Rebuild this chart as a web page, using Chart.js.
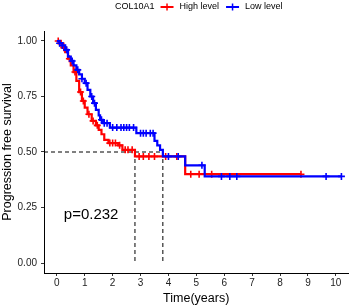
<!DOCTYPE html>
<html>
<head>
<meta charset="utf-8">
<script src="https://cdn.jsdelivr.net/npm/chart.js@4"></script>
<style>
  html, body { margin: 0; padding: 0; background: #fff; }
</style>
</head>
<body>
<canvas id="km" width="354" height="306"></canvas>
<script>
// Kaplan-Meier steps
const highTimes = [0, 0.1, 0.2, 0.3, 0.4, 0.5, 0.6, 0.7, 0.8, 0.9, 1.0, 1.1, 1.25, 1.4, 1.5, 1.6, 1.7, 1.85, 2.2, 2.35, 2.8, 4.6, 8.75];
const highSurv  = [1.0, 0.99, 0.97, 0.95, 0.92, 0.89, 0.86, 0.82, 0.77, 0.73, 0.70, 0.67, 0.64, 0.62, 0.60, 0.58, 0.555, 0.54, 0.53, 0.51, 0.48, 0.40, 0.40];
const lowTimes  = [0, 0.1, 0.2, 0.3, 0.4, 0.5, 0.6, 0.7, 0.8, 0.9, 1.0, 1.1, 1.2, 1.3, 1.4, 1.5, 1.55, 1.65, 1.9, 2.85, 3.5, 3.6, 3.7, 3.8, 4.6, 5.3, 10.2];
const lowSurv   = [1.0, 0.99, 0.98, 0.96, 0.93, 0.91, 0.89, 0.87, 0.85, 0.83, 0.81, 0.78, 0.75, 0.72, 0.69, 0.665, 0.645, 0.63, 0.61, 0.585, 0.55, 0.53, 0.51, 0.48, 0.44, 0.39, 0.39];

// censored observations (times)
const highCensor = [0.05, 0.15, 0.25, 0.45, 0.65, 0.85, 0.95, 1.15, 1.3, 1.45, 1.9, 2.0, 2.1, 2.25, 2.45, 2.55, 2.7, 2.95, 3.1, 3.3, 3.5, 3.9, 4.3, 4.8, 5.1, 5.55, 8.75];
const lowCensor  = [0.1, 0.2, 0.35, 0.55, 0.75, 0.9, 1.05, 1.25, 1.35, 1.6, 1.7, 1.8, 2.0, 2.15, 2.3, 2.4, 2.5, 2.6, 2.75, 3.0, 3.1, 3.2, 3.35, 3.45, 4.0, 4.35, 5.2, 5.9, 6.2, 6.45, 9.65, 10.2];

const medians = [2.8, 3.8];
const xTicks = [0, 1, 2, 3, 4, 5, 6, 7, 8, 9, 10];
const yTicks = [0, 0.25, 0.5, 0.75, 1];
const pValue = 'p=0.232';

const RED = '#ff0000';
const BLUE = '#0000ff';
const X_MIN = -0.46, X_MAX = 10.45;

function survAt(times, surv, t) {
  let s = surv[0];
  for (let i = 0; i < times.length; i++) {
    if (times[i] <= t) s = surv[i];
  }
  return s;
}

const toPts = (xs, ys) => xs.map((x, i) => ({ x: x, y: ys[i] }));
const censorPts = (cs, times, surv) => cs.map(t => ({ x: t, y: survAt(times, surv, t) }));

const stepStyle = color => ({
  type: 'line', stepped: true, borderColor: color, borderWidth: 2.2,
  pointRadius: 0, fill: false
});
const crossStyle = color => ({
  type: 'scatter', pointStyle: 'cross', pointRadius: 3.5, borderWidth: 1.6,
  borderColor: color, backgroundColor: color
});
const dashStyle = {
  type: 'line', borderColor: '#000', borderWidth: 1, borderDash: [4, 3],
  pointRadius: 0, fill: false
};

const datasets = [
  Object.assign({ data: toPts(lowTimes, lowSurv), order: 1 }, stepStyle(BLUE)),
  Object.assign({ data: censorPts(lowCensor, lowTimes, lowSurv), order: 0 }, crossStyle(BLUE)),
  Object.assign({ data: toPts(highTimes, highSurv), order: 3 }, stepStyle(RED)),
  Object.assign({ data: censorPts(highCensor, highTimes, highSurv), order: 2 }, crossStyle(RED)),
  Object.assign({ data: [{ x: X_MIN, y: 0.5 }, { x: Math.max(...medians), y: 0.5 }], order: 4 }, dashStyle)
];
medians.forEach(m => {
  datasets.push(Object.assign({ data: [{ x: m, y: 0.5 }, { x: m, y: 0 }], order: 4 }, dashStyle));
});

// legend and p-value drawn by hand (ggplot style)
const extras = {
  id: 'extras',
  afterDraw(chart) {
    const ctx = chart.ctx;
    const xs = chart.scales.x, ys = chart.scales.y;
    ctx.save();
    ctx.fillStyle = '#000';
    ctx.font = '15px "Liberation Sans", Arial, sans-serif';
    ctx.textBaseline = 'middle';
    ctx.textAlign = 'left';
    ctx.fillText(pValue, xs.getPixelForValue(0.25), ys.getPixelForValue(0.216));

    ctx.font = '9px "Liberation Sans", Arial, sans-serif';
    let x = 115;
    const y = 7;
    ctx.fillText('COL10A1', x, y);
    x += ctx.measureText('COL10A1').width + 6;
    [[RED, 'High level'], [BLUE, 'Low level']].forEach(([c, label]) => {
      ctx.strokeStyle = c;
      ctx.lineWidth = 2;
      ctx.beginPath();
      ctx.moveTo(x, y); ctx.lineTo(x + 13, y);
      ctx.stroke();
      ctx.lineWidth = 1.5;
      ctx.beginPath();
      ctx.moveTo(x + 6.5, y - 3.5); ctx.lineTo(x + 6.5, y + 3.5);
      ctx.stroke();
      x += 19;
      ctx.fillStyle = '#000';
      ctx.fillText(label, x, y);
      x += ctx.measureText(label).width + 7;
    });
    ctx.restore();
  }
};

const tickFont = { family: '"Liberation Sans", Arial, sans-serif', size: 10 };
const titleFont = { family: '"Liberation Sans", Arial, sans-serif', size: 12.5 };

new Chart(document.getElementById('km'), {
  data: { datasets: datasets },
  plugins: [extras],
  options: {
    responsive: false,
    animation: false,
    devicePixelRatio: 1,
    layout: { padding: { top: 31, right: 4, left: 0, bottom: 0 } },
    plugins: { legend: { display: false }, tooltip: { enabled: false } },
    scales: {
      x: {
        type: 'linear', min: X_MIN, max: X_MAX,
        afterBuildTicks: s => { s.ticks = xTicks.map(v => ({ value: v })); },
        afterFit: s => { s.height = 33; },
        grid: { drawOnChartArea: false, drawTicks: true, tickLength: 3, color: '#333' },
        border: { display: true, color: '#000', width: 1 },
        ticks: { color: '#222', font: tickFont, padding: 1, maxRotation: 0 },
        title: { display: true, text: 'Time(years)', color: '#000', font: titleFont, padding: { top: 0, bottom: 0 } }
      },
      y: {
        type: 'linear', min: -0.045, max: 1.045,
        afterBuildTicks: s => { s.ticks = yTicks.map(v => ({ value: v })); },
        afterFit: s => { s.width = 44; },
        grid: { drawOnChartArea: false, drawTicks: true, tickLength: 3, color: '#333' },
        border: { display: true, color: '#000', width: 1 },
        ticks: { color: '#222', font: tickFont, padding: 4, callback: v => v.toFixed(2) },
        title: { display: true, text: 'Progression free survival', color: '#000', font: titleFont, padding: { top: 0, bottom: 1 } }
      }
    }
  }
});
</script>
</body>
</html>
